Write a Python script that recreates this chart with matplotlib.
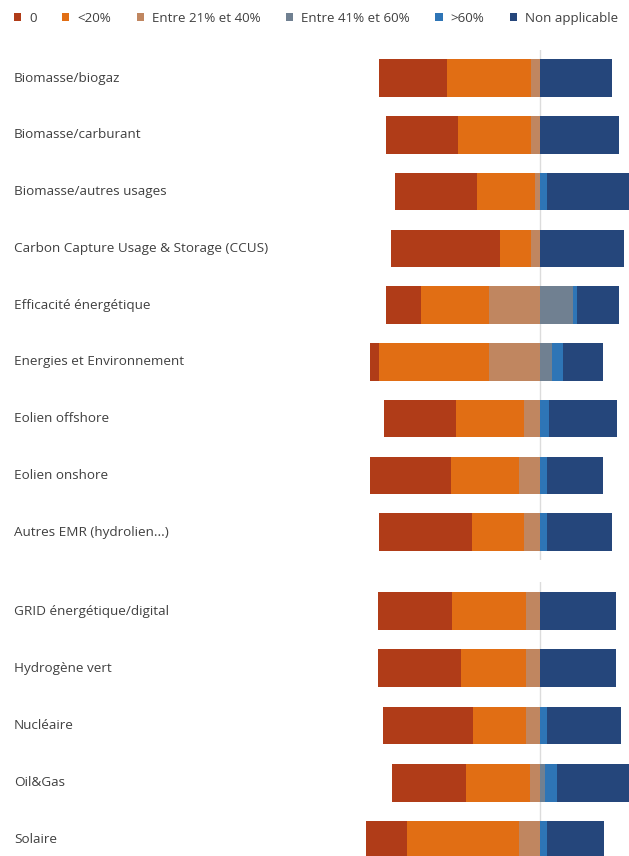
import numpy as np
import matplotlib.pyplot as plt

# categories (two groups, as in the original screenshot)
cats_top = ['Biomasse/biogaz', 'Biomasse/carburant', 'Biomasse/autres usages',
            'Carbon Capture Usage & Storage (CCUS)', 'Efficacité énergétique',
            'Energies et Environnement', 'Eolien offshore', 'Eolien onshore',
            'Autres EMR (hydrolien...)']
cats_bot = ['GRID énergétique/digital', 'Hydrogène vert', 'Nucléaire',
            'Oil&Gas', 'Solaire']

# shares in % per answer
zero_top = [29, 31, 35, 47, 15, 4, 31, 35, 40]
lt20_top = [36, 31, 25, 13, 29, 47, 29, 29, 22]
p21_40_top = [4, 4, 2, 4, 22, 22, 7, 9, 7]
p41_60_top = [0, 0, 0, 0, 14, 5, 0, 0, 0]
gt60_top = [0, 0, 3, 0, 2, 5, 4, 3, 3]
na_top = [31, 34, 35, 36, 18, 17, 29, 24, 28]

zero_bot = [31, 35, 38, 31, 17]
lt20_bot = [31, 27, 22, 27, 47]
p21_40_bot = [6, 6, 6, 4, 9]
p41_60_bot = [0, 0, 0, 2, 0]
gt60_bot = [0, 0, 3, 5, 3]
na_bot = [32, 32, 31, 31, 24]

labels = ['0', '<20%', 'Entre 21% et 40%', 'Entre 41% et 60%', '>60%', 'Non applicable']
colors = ['#B03C18', '#E16E14', '#C08660', '#708091', '#2E75B6', '#25467B']

fig = plt.figure(figsize=(6.29, 8.56), dpi=100)
ax1 = fig.add_axes([0, 0.3453, 1, 0.5967])
ax2 = fig.add_axes([0, 0, 1, 0.3196])


def draw(ax, cats, series, ylim, xlim):
    y = np.arange(len(cats))
    r, o, t, g, b, n = [np.array(s, dtype=float) for s in series]
    left = [-(r + o + t), -(o + t), -t]
    for vals, start, c, lab in zip([r, o, t], left, colors[:3], labels[:3]):
        ax.barh(y, vals, left=start, height=0.66, color=c, label=lab)
    start = np.zeros(len(cats))
    for vals, c, lab in zip([g, b, n], colors[3:], labels[3:]):
        ax.barh(y, vals, left=start, height=0.66, color=c, label=lab)
        start = start + vals
    ax.axvline(0, color='#dcdcdc', lw=1, zorder=0)
    for yi, c in zip(y, cats):
        ax.text(14 / 629, yi, c, transform=ax.get_yaxis_transform(),
                ha='left', va='center', fontsize=9.7, color='#404040',
                family='Open Sans')
    ax.set_xlim(*xlim)
    ax.set_ylim(*ylim)
    ax.axis('off')


draw(ax1, cats_top, [zero_top, lt20_top, p21_40_top, p41_60_top, gt60_top, na_top],
     (8.5, -0.5), (-231.4, 38.1))
draw(ax2, cats_bot, [zero_bot, lt20_bot, p21_40_bot, p41_60_bot, gt60_bot, na_bot],
     (4.28, -0.5), (-226.9, 37.4))

handles, labs = ax1.get_legend_handles_labels()
fig.legend(handles, labs, loc='center left', bbox_to_anchor=(14 / 629, 1 - 18.3 / 856),
           ncol=6, frameon=False, handlelength=0.55, handleheight=0.55,
           handletextpad=0.6, columnspacing=1.9, borderaxespad=0, borderpad=0,
           prop={'family': 'Open Sans', 'size': 9.6})
for txt in fig.legends[0].get_texts():
    txt.set_color('#404040')

fig.savefig('out.png', dpi=100)
